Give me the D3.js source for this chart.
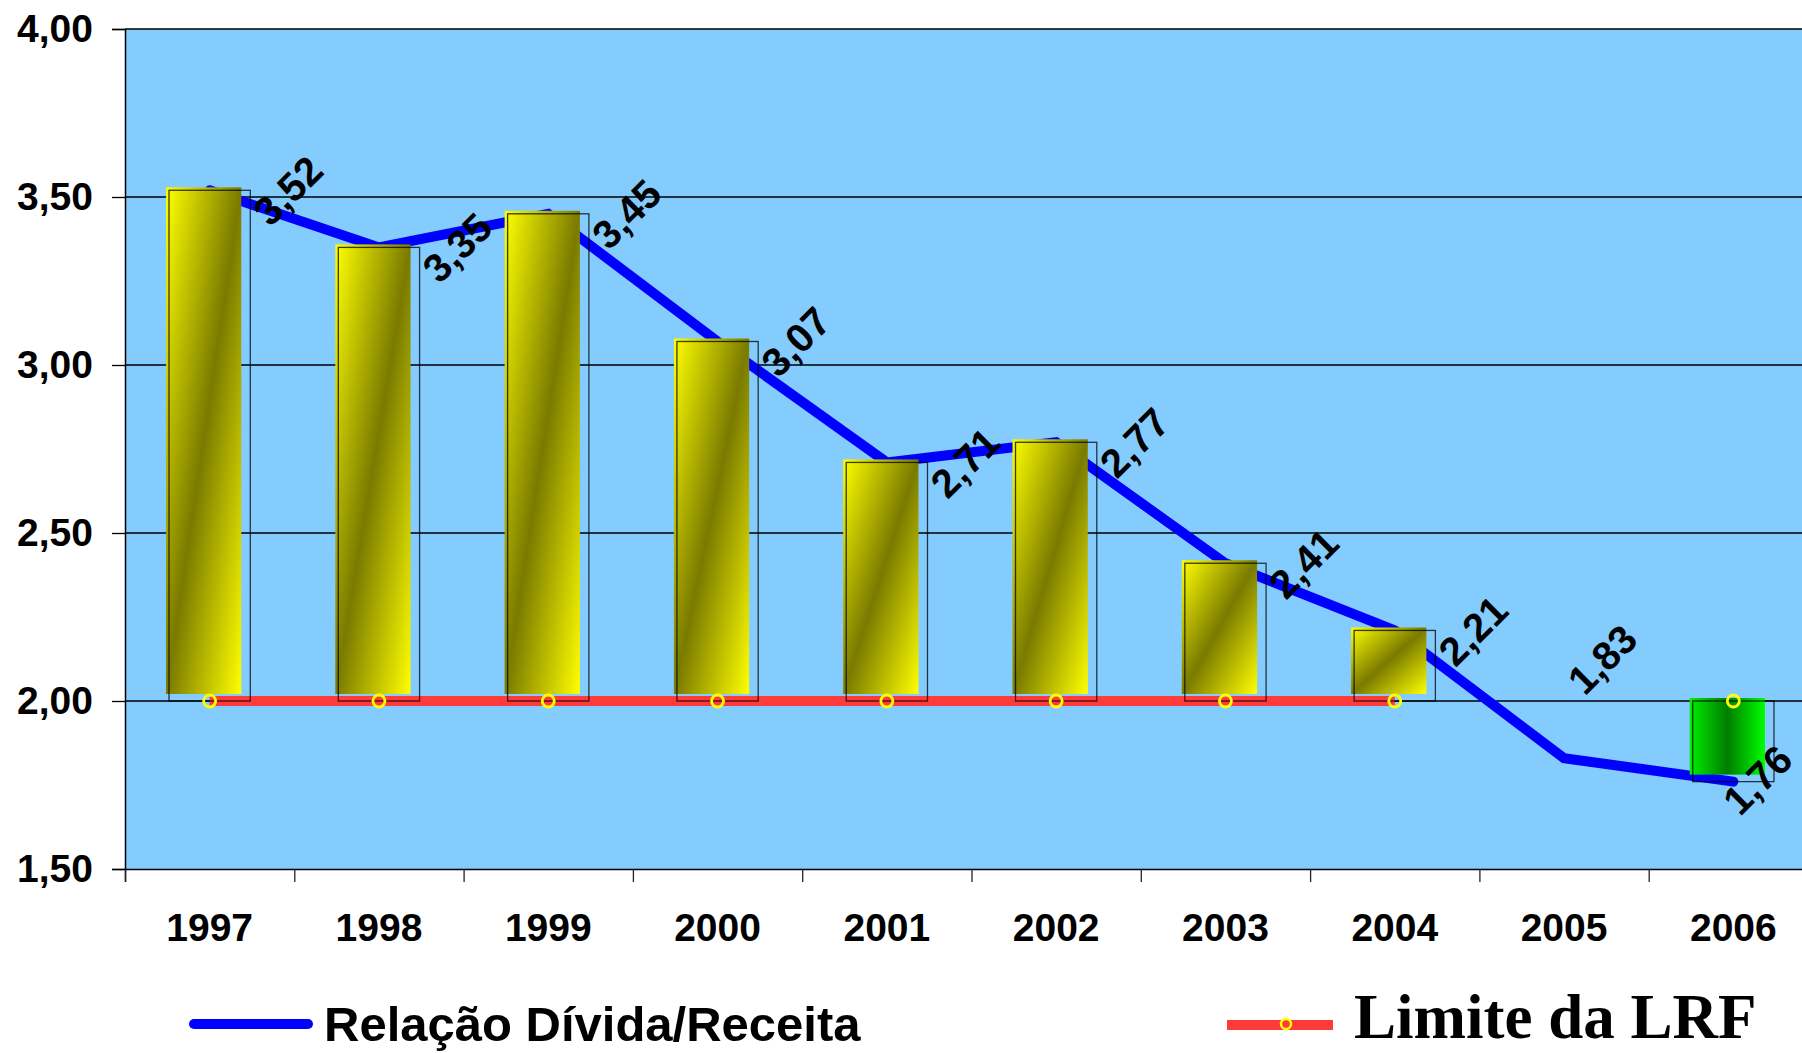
<!DOCTYPE html>
<html>
<head>
<meta charset="utf-8">
<script src="https://cdn.jsdelivr.net/npm/d3@7"></script>
<style>
  body { margin: 0; background: #fff; }
  svg { display: block; }
  text { font-family: "Liberation Sans", Arial, sans-serif; font-weight: bold; }
</style>
</head>
<body>
<svg width="1802" height="1053"></svg>
<script>
const years = ["1997", "1998", "1999", "2000", "2001", "2002", "2003", "2004", "2005", "2006"]
// relação dívida / receita (linha azul)
const ratio = [3.52, 3.35, 3.45, 3.07, 2.71, 2.77, 2.41, 2.21, 1.83, 1.76]
// barras flutuantes a partir do limite (2005 sem barra)
const bars = [3.52, 3.35, 3.45, 3.07, 2.71, 2.77, 2.41, 2.21, null, 1.76]
// limite da LRF
const limit = [2, 2, 2, 2, 2, 2, 2, 2, null, 2]
const yTicks = [1.5, 2, 2.5, 3, 3.5, 4]

const W = 1802, H = 1053
const plotLeft = 125, plotTop = 29, plotBottom = 869, plotRight = 1818

const svg = d3.select("svg")
const fmt = d3.formatLocale({decimal: ",", thousands: ".", grouping: [3], currency: ["R$", ""]}).format(".2f")

const x = d3.scaleBand().domain(years).range([plotLeft, plotRight]).padding(0)
const xEdge = d3.scaleLinear().domain([0, years.length]).range([plotLeft, plotRight])
const y = d3.scaleLinear().domain([1.5, 4]).range([plotBottom, plotTop])
const cx = (i) => x(years[i]) + x.bandwidth() / 2

// gradients
const defs = svg.append("defs")
const gy = defs.append("linearGradient").attr("id", "gold")
  .attr("x1", 0).attr("y1", 0).attr("x2", 1).attr("y2", 1)
gy.append("stop").attr("offset", 0).attr("stop-color", "#ffff00")
gy.append("stop").attr("offset", 0.5).attr("stop-color", "#7a7a00")
gy.append("stop").attr("offset", 1).attr("stop-color", "#ffff00")
const gg = defs.append("linearGradient").attr("id", "green")
  .attr("x1", 0).attr("y1", 0).attr("x2", 1).attr("y2", 0)
gg.append("stop").attr("offset", 0).attr("stop-color", "#00f000")
gg.append("stop").attr("offset", 0.5).attr("stop-color", "#007d00")
gg.append("stop").attr("offset", 1).attr("stop-color", "#00ff00")

// plot background
svg.append("rect")
  .attr("x", plotLeft).attr("y", plotTop)
  .attr("width", W - plotLeft).attr("height", plotBottom - plotTop)
  .attr("fill", "#84cbfe")

// gridlines
svg.append("g").selectAll("line")
  .data(yTicks.slice(1))
  .join("line")
  .attr("x1", plotLeft).attr("x2", W)
  .attr("y1", d => y(d)).attr("y2", d => y(d))
  .attr("stroke", "#000").attr("stroke-width", 1.3)

// y axis
const yAxis = svg.append("g")
  .attr("transform", `translate(${plotLeft},0)`)
  .call(d3.axisLeft(y).tickValues(yTicks).tickFormat(fmt).tickSize(13).tickPadding(19))
yAxis.select(".domain").attr("stroke", "#000").attr("stroke-width", 1.5)
yAxis.selectAll(".tick line").attr("stroke", "#000").attr("stroke-width", 1.3)
yAxis.selectAll("text").attr("font-size", 39).attr("fill", "#000")
  .attr("font-family", "'Liberation Sans', Arial, sans-serif").attr("font-weight", "bold")

// x axis: ticks on category edges
const xAxis = svg.append("g")
  .attr("transform", `translate(0,${plotBottom})`)
  .call(d3.axisBottom(xEdge).tickValues(d3.range(years.length + 1)).tickFormat("").tickSize(13))
xAxis.select(".domain").attr("stroke", "#000").attr("stroke-width", 1.5)
xAxis.selectAll(".tick line").attr("stroke", "#222").attr("stroke-width", 1.3)

const xLab = svg.append("g")
  .attr("transform", `translate(0,${plotBottom})`)
  .call(d3.axisBottom(x).tickSize(0).tickPadding(44))
xLab.select(".domain").remove()
xLab.selectAll("text").attr("font-size", 39).attr("fill", "#000")
  .attr("font-family", "'Liberation Sans', Arial, sans-serif").attr("font-weight", "bold")

// blue line (behind bars)
const line = d3.line().x((d, i) => cx(i)).y(d => y(d))
svg.append("path")
  .attr("d", line(ratio))
  .attr("fill", "none").attr("stroke", "#0000ff")
  .attr("stroke-width", 10).attr("stroke-linecap", "round")

// red LRF line
const limLine = d3.line().defined(d => d != null).x((d, i) => cx(i)).y(d => y(d))
svg.append("path")
  .attr("d", limLine(limit))
  .attr("fill", "none").attr("stroke", "#ff3a3a").attr("stroke-width", 10)

// bars
const bw = x.bandwidth() * 0.48
const barData = bars.map((v, i) => ({v, i})).filter(d => d.v != null)
const bg = svg.append("g")
barData.forEach(d => {
  const x0 = cx(d.i) - bw / 2
  const y0 = y(Math.max(d.v, 2)), y1 = y(Math.min(d.v, 2))
  bg.append("rect")
    .attr("x", x0 - 3).attr("y", y0 - 3)
    .attr("width", bw - 6).attr("height", y1 - y0 - 4)
    .attr("fill", d.v >= 2 ? "url(#gold)" : "url(#green)")
  bg.append("rect")
    .attr("x", x0).attr("y", y0)
    .attr("width", bw).attr("height", y1 - y0)
    .attr("fill", "none").attr("stroke", "#000").attr("stroke-opacity", 0.75).attr("stroke-width", 1.3)
})

// LRF markers
svg.append("g").selectAll("circle")
  .data(limit.map((v, i) => ({v, i})).filter(d => d.v != null))
  .join("circle")
  .attr("cx", d => cx(d.i)).attr("cy", d => y(d.v))
  .attr("r", 6).attr("fill", "none")
  .attr("stroke", "#ffff00").attr("stroke-width", 2.8)

// data labels, rotated
const nudge = {"2005": [38, -99], "2006": [24, -2]}
svg.append("g").selectAll("text")
  .data(ratio.map((v, i) => ({v, i})))
  .join("text")
  .attr("transform", d => {
    const n = nudge[years[d.i]] || [78, 0]
    return `translate(${cx(d.i) + n[0]},${y(d.v) + n[1]}) rotate(-45)`
  })
  .attr("text-anchor", "middle")
  .attr("dy", "0.36em")
  .attr("font-size", 40).attr("fill", "#000")
  .text(d => fmt(d.v))

// legend
const lg = svg.append("g")
lg.append("line").attr("x1", 194).attr("x2", 308).attr("y1", 1024).attr("y2", 1024)
  .attr("stroke", "#0000ff").attr("stroke-width", 10).attr("stroke-linecap", "round")
lg.append("text").attr("x", 324).attr("y", 1041).attr("font-size", 49).attr("fill", "#000")
  .text("Relação Dívida/Receita")
lg.append("line").attr("x1", 1227).attr("x2", 1333).attr("y1", 1025).attr("y2", 1025)
  .attr("stroke", "#ff3a3a").attr("stroke-width", 10)
lg.append("circle").attr("cx", 1286).attr("cy", 1024).attr("r", 5)
  .attr("fill", "none").attr("stroke", "#ffff00").attr("stroke-width", 2.5)
lg.append("text").attr("x", 1354).attr("y", 1038).attr("font-size", 63).attr("fill", "#000")
  .style("font-family", "'Liberation Serif', 'Times New Roman', serif")
  .text("Limite da LRF")
</script>
</body>
</html>
